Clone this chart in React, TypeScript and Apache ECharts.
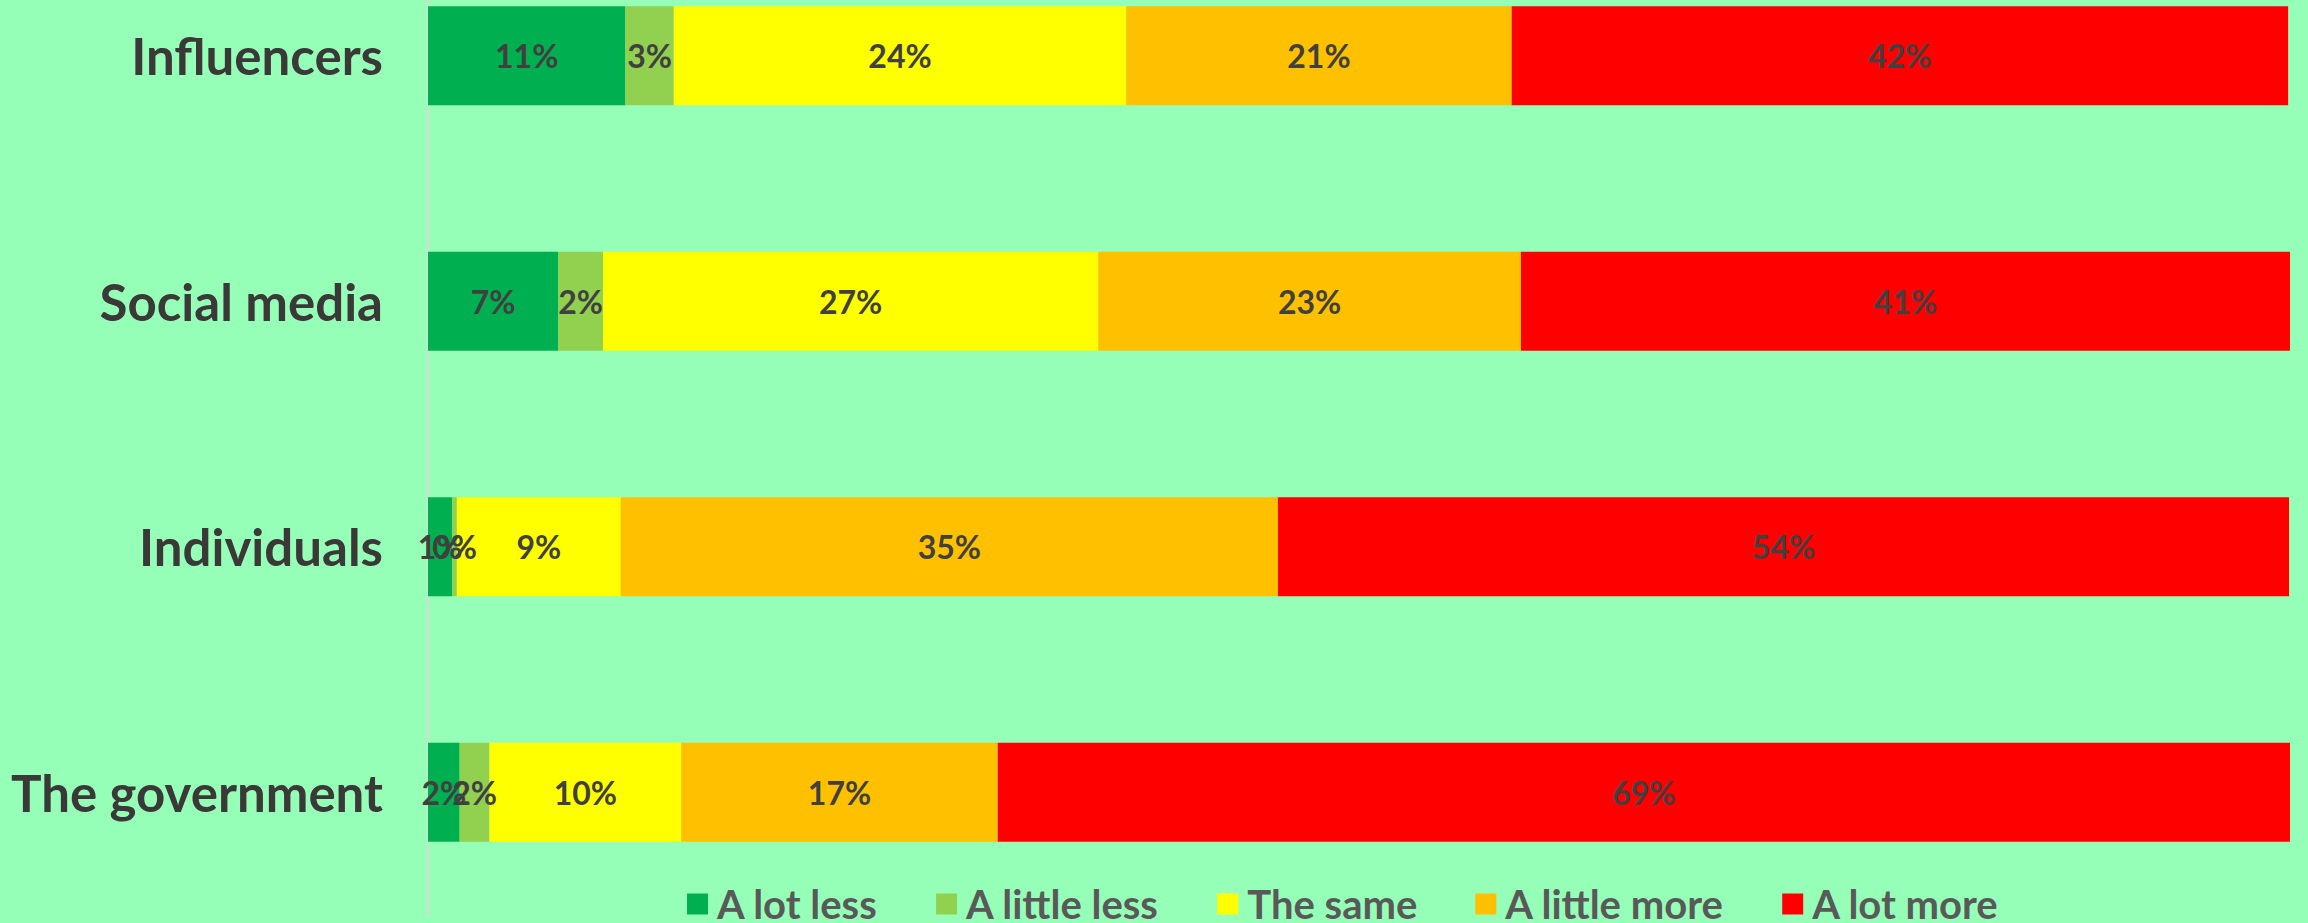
import React, { useEffect, useRef } from "react";
import * as echarts from "echarts";

const categories = ["Influencers", "Social media", "Individuals", "The government"];
const seriesNames = ["A lot less", "A little less", "The same", "A little more", "A lot more"];
const aLotLess = [10.6, 7.0, 1.3, 1.7];
const aLittleLess = [2.6, 2.4, 0.25, 1.6];
const theSame = [24.3, 26.6, 8.8, 10.3];
const aLittleMore = [20.7, 22.7, 35.3, 17.0];
const aLotMore = [41.7, 41.3, 54.3, 69.4];
const seriesValues = [aLotLess, aLittleLess, theSame, aLittleMore, aLotMore];
const seriesColors = ["#00B050", "#92D050", "#FFFF00", "#FFC000", "#FF0000"];

const FONT = "Lato, 'Noto Sans', sans-serif";

export default function App() {
  const ref = useRef<HTMLDivElement>(null);
  useEffect(() => {
    if (!ref.current) return;
    const chart = echarts.init(ref.current, null, { renderer: "svg" });
    chart.setOption({
      animation: false,
      backgroundColor: "#95FFB8",
      grid: {
        left: 428,
        right: 18,
        top: -67,
        height: 982,
        containLabel: false,
        outerBoundsMode: "none",
      },
      xAxis: {
        type: "value",
        min: 0,
        max: 100,
        show: false,
        splitLine: { show: false },
      },
      yAxis: {
        type: "category",
        data: categories,
        inverse: true,
        axisLine: { show: true, lineStyle: { color: "#D9D9D9", width: 2 } },
        axisTick: { show: false },
        axisLabel: {
          margin: 45,
          fontFamily: FONT,
          fontWeight: "bold",
          fontSize: 51,
          color: "#3B3838",
        },
      },
      legend: {
        show: true,
        left: 682,
        top: 879,
        itemWidth: 21,
        itemHeight: 21,
        itemGap: 58,
        icon: "rect",
        data: seriesNames,
        textStyle: {
          fontFamily: FONT,
          fontWeight: "bold",
          fontSize: 40,
          color: "#595959",
          padding: [0, 0, 0, 4],
        },
      },
      series: seriesNames.map((name, i) => ({
        name,
        type: "bar",
        stack: "total",
        barWidth: 99,
        data: seriesValues[i],
        itemStyle: { color: seriesColors[i] },
        label: {
          show: true,
          position: "inside",
          fontFamily: FONT,
          fontWeight: "bold",
          fontSize: 32,
          color: "#404040",
          formatter: (p: any) => Math.round(p.value) + "%",
        },
        emphasis: { disabled: true },
      })),
    });
    return () => chart.dispose();
  }, []);
  return (
    <div
      ref={ref}
      style={{ position: "fixed", left: 0, top: 0, width: 2308, height: 923 }}
    />
  );
}
